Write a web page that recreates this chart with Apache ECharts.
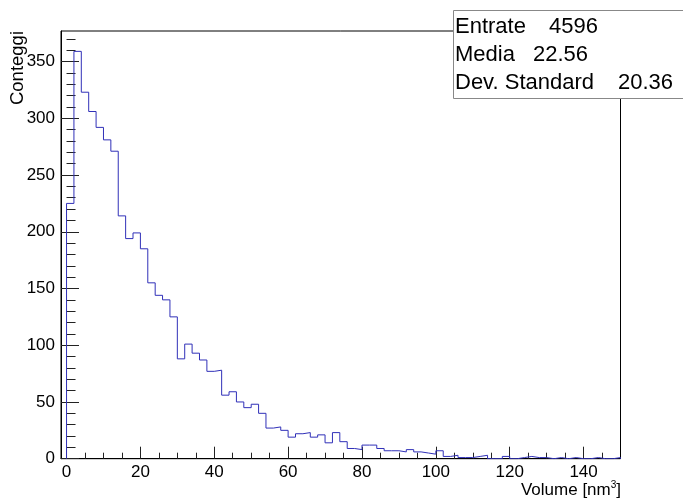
<!DOCTYPE html>
<html>
<head>
<meta charset="utf-8">
<title>Volume</title>
<script src="https://cdn.jsdelivr.net/npm/echarts@6/dist/echarts.min.js"></script>
<style>
  html, body { margin: 0; padding: 0; background: #fff; }
  #chart { width: 683px; height: 503px; }
</style>
</head>
<body>
<div id="chart"></div>
<script>
// Histogram binning: 75 bins of width 2 starting at 0
const binStart = 0;
const binWidth = 2;
const counts = [
  225, 359, 323, 306, 292, 281, 271, 214, 194, 199,
  185, 155, 144, 140, 125,  88, 101,  93,  87,  77,
   78,  56,  59,  50,  45,  48,  40,  27,  28,  25,
   19,  22,  23,  19,  21,  14,  23,  15,   9,   8,
   12,  12,   9,   7,   7,   6,   8,   6,   5,   4,
    7,   2,   3,   1,   1,   2,   3,   0,   0,   2,
    0,   1,   2,   1,   1,   0,   1,   0,   1,   0,
    0,   1,   0,   0,   1
];

// Axis ticks
const xMajorTicks = [0, 20, 40, 60, 80, 100, 120, 140];
const xMinorTicks = [5, 10, 15, 25, 30, 35, 45, 50, 55, 65, 70, 75, 85, 90, 95,
                     105, 110, 115, 125, 130, 135, 145];
const yMajorTicks = [0, 50, 100, 150, 200, 250, 300, 350];
const yMinorTicks = [10, 20, 30, 40, 60, 70, 80, 90, 110, 120, 130, 140, 160, 170, 180, 190,
                     210, 220, 230, 240, 260, 270, 280, 290, 310, 320, 330, 340, 360, 370];

// Statistics box
const statLabels = ['Entrate', 'Media', 'Dev. Standard'];
const statValues = ['4596', '22.56', '20.36'];

const FONT = 'Liberation Sans, Arial, Helvetica, sans-serif';

// Step outline of the histogram: rise at the first edge, flat tops, drop at the last edge
const outline = [[binStart, 0]];
counts.forEach((c, i) => {
  const lo = binStart + i * binWidth;
  outline.push([lo, c], [lo + binWidth, c]);
});
outline.push([binStart + counts.length * binWidth, 0]);

const xMin = -1.5, xMax = 150;
const yMin = 0, yMax = Math.max(...counts) * 1.05;

const chart = echarts.init(document.getElementById('chart'), null, { renderer: 'canvas' });

const tickStyle = { color: '#222', width: 1 };

chart.setOption({
  animation: false,
  backgroundColor: '#fff',
  grid: {
    left: 61, right: 62.5, top: 31, bottom: 44.3,
    show: true, borderColor: '#000', borderWidth: 1, backgroundColor: 'transparent'
  },
  xAxis: [
    {
      type: 'value', min: xMin, max: xMax, position: 'bottom',
      axisLine: { show: true, onZero: false, lineStyle: { color: '#000', width: 1 } },
      axisTick: { show: true, inside: true, length: 12, customValues: xMajorTicks, lineStyle: tickStyle },
      axisLabel: { show: true, customValues: xMajorTicks, fontSize: 17, color: '#000', fontFamily: FONT, margin: 5 },
      splitLine: { show: false }
    },
    {
      type: 'value', min: xMin, max: xMax, position: 'bottom',
      axisLine: { show: false },
      axisTick: { show: true, inside: true, length: 6, customValues: xMinorTicks, lineStyle: tickStyle },
      axisLabel: { show: false },
      splitLine: { show: false }
    }
  ],
  yAxis: [
    {
      type: 'value', min: yMin, max: yMax, position: 'left',
      axisLine: { show: true, onZero: false, lineStyle: { color: '#000', width: 1 } },
      axisTick: { show: true, inside: true, length: 18, customValues: yMajorTicks, lineStyle: tickStyle },
      axisLabel: { show: true, customValues: yMajorTicks, fontSize: 17, color: '#000', fontFamily: FONT, margin: 6 },
      splitLine: { show: false }
    },
    {
      type: 'value', min: yMin, max: yMax, position: 'left',
      axisLine: { show: false },
      axisTick: { show: true, inside: true, length: 9, customValues: yMinorTicks, lineStyle: tickStyle },
      axisLabel: { show: false },
      splitLine: { show: false }
    }
  ],
  series: [
    {
      type: 'line',
      xAxisIndex: 0, yAxisIndex: 0,
      data: outline,
      showSymbol: false,
      symbol: 'none',
      lineStyle: { color: '#3030b8', width: 1 },
      silent: true
    }
  ],
  graphic: [
    {
      type: 'text', x: 17.5, y: 31, rotation: Math.PI / 2,
      style: { text: 'Conteggi', fontSize: 18.5, fontFamily: FONT, fill: '#000', align: 'right', verticalAlign: 'middle' }
    },
    {
      type: 'text', x: 621, y: 490,
      style: {
        text: 'Volume [nm{sup|3}]', fontSize: 17, fontFamily: FONT, fill: '#000', align: 'right', verticalAlign: 'middle',
        rich: { sup: { fontSize: 10, fontFamily: FONT, fill: '#000', verticalAlign: 'top', padding: [0, 0, 9, 0] } }
      }
    },
    {
      type: 'rect', shape: { x: 453.5, y: 10.5, width: 240, height: 88 },
      style: { fill: '#fff', stroke: '#888', lineWidth: 1 }, z: 10
    },
    { type: 'text', x: 455, y: 27, z: 11, style: { text: statLabels[0], fontSize: 22, fontFamily: FONT, fill: '#000', verticalAlign: 'middle' } },
    { type: 'text', x: 549, y: 27, z: 11, style: { text: statValues[0], fontSize: 22, fontFamily: FONT, fill: '#000', verticalAlign: 'middle' } },
    { type: 'text', x: 455, y: 55, z: 11, style: { text: statLabels[1], fontSize: 22, fontFamily: FONT, fill: '#000', verticalAlign: 'middle' } },
    { type: 'text', x: 533, y: 55, z: 11, style: { text: statValues[1], fontSize: 22, fontFamily: FONT, fill: '#000', verticalAlign: 'middle' } },
    { type: 'text', x: 455, y: 83, z: 11, style: { text: statLabels[2], fontSize: 22, fontFamily: FONT, fill: '#000', verticalAlign: 'middle' } },
    { type: 'text', x: 618, y: 83, z: 11, style: { text: statValues[2], fontSize: 22, fontFamily: FONT, fill: '#000', verticalAlign: 'middle' } }
  ]
});
</script>
</body>
</html>
